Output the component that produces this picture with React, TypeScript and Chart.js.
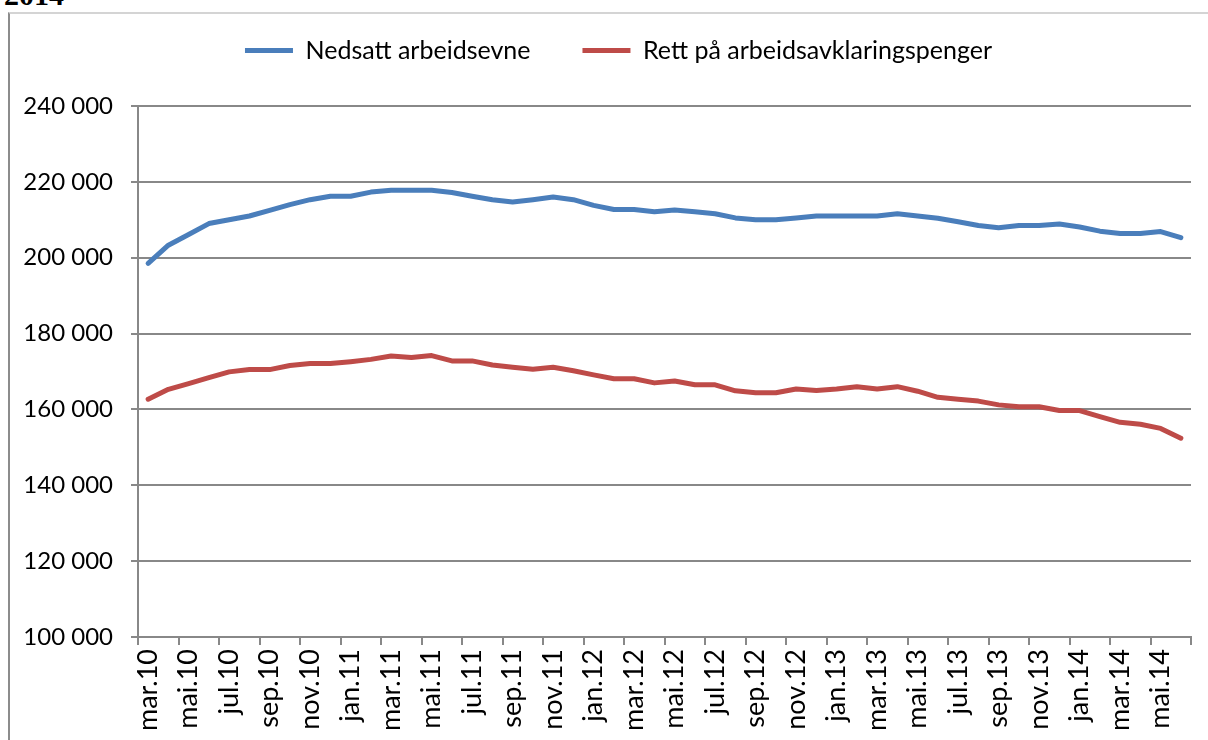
import React, { useEffect, useRef } from "react";
import { Chart, registerables } from "chart.js";

Chart.register(...registerables);

const categories: string[] = [
  "mar.10", "apr.10", "mai.10", "jun.10", "jul.10", "aug.10", "sep.10", "okt.10", "nov.10", "des.10",
  "jan.11", "feb.11", "mar.11", "apr.11", "mai.11", "jun.11", "jul.11", "aug.11", "sep.11", "okt.11", "nov.11", "des.11",
  "jan.12", "feb.12", "mar.12", "apr.12", "mai.12", "jun.12", "jul.12", "aug.12", "sep.12", "okt.12", "nov.12", "des.12",
  "jan.13", "feb.13", "mar.13", "apr.13", "mai.13", "jun.13", "jul.13", "aug.13", "sep.13", "okt.13", "nov.13", "des.13",
  "jan.14", "feb.14", "mar.14", "apr.14", "mai.14", "jun.14",
];

const seriesNames = ["Nedsatt arbeidsevne", "Rett på arbeidsavklaringspenger"];

const nedsattArbeidsevne: number[] = [
  198500, 203300, 206100, 209000, 210000, 211000, 212500, 214000, 215300, 216200,
  216200, 217300, 217800, 217800, 217800, 217200, 216200, 215300, 214700, 215300, 216000, 215300,
  213800, 212700, 212700, 212100, 212600, 212100, 211600, 210500, 210000, 210000, 210500, 211000,
  211000, 211000, 211000, 211600, 211000, 210400, 209500, 208500, 207900, 208500, 208500, 208900,
  208100, 207000, 206400, 206400, 206900, 205300,
];

const rettPaaAap: number[] = [
  162700, 165300, 166800, 168400, 169900, 170500, 170500, 171600, 172100, 172100,
  172600, 173200, 174100, 173700, 174200, 172800, 172800, 171700, 171100, 170600, 171100, 170200,
  169100, 168100, 168100, 167000, 167500, 166500, 166500, 164900, 164400, 164400, 165400, 165000,
  165400, 166000, 165400, 166000, 164800, 163200, 162700, 162200, 161200, 160700, 160700, 159700,
  159700, 158100, 156600, 156100, 155000, 152400,
];

const yMin = 100000;
const yMax = 240000;
const yStep = 20000;

const FONT = "Lato, 'Open Sans', sans-serif";

export default function App() {
  const canvasRef = useRef<HTMLCanvasElement | null>(null);

  useEffect(() => {
    const canvas = canvasRef.current;
    if (!canvas) return;

    const legendFixPlugin = {
      id: "legendFix",
      beforeUpdate(chart: any) {
        const lg = chart.legend;
        if (lg && !lg.__patched) {
          const orig = lg.fit;
          lg.fit = function () {
            orig.call(this);
            this.height = 120;
          };
          lg.__patched = true;
        }
      },
      afterLayout(chart: any) {
        const lg = chart.legend;
        if (lg) {
          lg.left += 19;
          lg.right += 19;
        }
      },
    };

    const chart = new Chart(canvas, {
      type: "line",
      data: {
        labels: categories,
        datasets: [
          {
            label: seriesNames[0],
            data: nedsattArbeidsevne,
            borderColor: "#4a7ebb",
            backgroundColor: "#4a7ebb",
            borderWidth: 5,
            pointRadius: 0,
            tension: 0,
            borderCapStyle: "round",
            borderJoinStyle: "round",
          },
          {
            label: seriesNames[1],
            data: rettPaaAap,
            borderColor: "#be4b48",
            backgroundColor: "#be4b48",
            borderWidth: 5,
            pointRadius: 0,
            tension: 0,
            borderCapStyle: "round",
            borderJoinStyle: "round",
          },
        ],
      },
      options: {
        responsive: false,
        animation: false,
        layout: { padding: { top: -14, left: 8, right: 17, bottom: 0 } },
        plugins: {
          tooltip: { enabled: false },
          legend: {
            display: true,
            position: "top",
            labels: {
              usePointStyle: true,
              pointStyle: "line",
              pointStyleWidth: 48,
              padding: 52,
              color: "#000",
              font: { family: FONT, size: 25 },
            },
          },
        },
        scales: {
          x: {
            type: "category",
            offset: true,
            afterFit(s: any) {
              s.height = 103;
              s.paddingLeft = 0;
              s.paddingRight = 0;
            },
            grid: {
              offset: true,
              drawOnChartArea: false,
              drawTicks: true,
              tickLength: 8,
              lineWidth: 2,
              tickColor: (ctx: any) =>
                ctx.index === undefined || ctx.index % 2 === 0 ? "#888" : "rgba(0,0,0,0)",
            },
            border: { display: true, color: "#888", width: 2 },
            ticks: {
              autoSkip: false,
              minRotation: 90,
              maxRotation: 90,
              padding: 4,
              color: "#000",
              font: { family: FONT, size: 27 },
              callback: (_v: any, i: number) => (i % 2 === 0 ? categories[i] : ""),
            },
          },
          y: {
            min: yMin,
            max: yMax,
            afterFit(s: any) {
              s.width = 130;
            },
            grid: {
              color: "#888",
              lineWidth: 2,
              tickLength: 7,
              drawTicks: true,
            },
            border: { display: true, color: "#888", width: 2 },
            ticks: {
              stepSize: yStep,
              padding: 18,
              color: "#000",
              font: { family: FONT, size: 24 },
              callback: (v: any) => `${Math.round(Number(v) / 1000)} 000`,
            },
          },
        },
      },
      plugins: [legendFixPlugin],
    });

    return () => chart.destroy();
  }, []);

  return (
    <div
      style={{
        position: "fixed",
        left: 0,
        top: 0,
        width: 1208,
        height: 740,
        overflow: "hidden",
        background: "#fff",
      }}
    >
      <div
        style={{
          position: "absolute",
          left: 4,
          top: -22,
          fontFamily: "'Liberation Serif', 'DejaVu Serif', serif",
          fontWeight: "bold",
          fontSize: 30,
          color: "#000",
        }}
      >
        2014
      </div>
      <div
        style={{
          position: "absolute",
          left: 8,
          top: 12,
          width: 1300,
          height: 800,
          borderLeft: "2px solid #8c8c8c",
          borderTop: "2px solid #d4d4d4",
        }}
      />
      <canvas
        ref={canvasRef}
        width={1208}
        height={740}
        style={{ position: "absolute", left: 0, top: 0, width: 1208, height: 740 }}
      />
    </div>
  );
}
